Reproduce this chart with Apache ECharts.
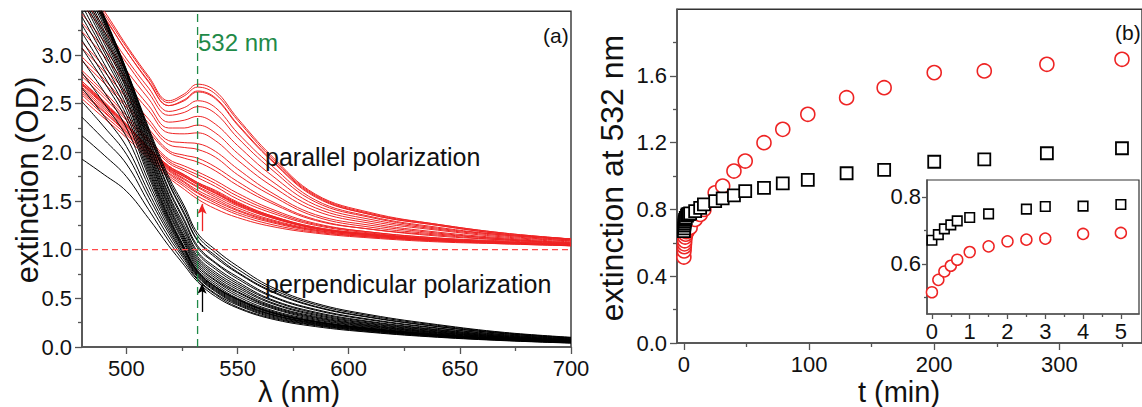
<!DOCTYPE html>
<html><head><meta charset="utf-8">
<script src="https://cdn.jsdelivr.net/npm/echarts@6/dist/echarts.min.js"></script>
<style>html,body{margin:0;padding:0;background:#fff;overflow:hidden}#c{width:1142px;height:407px}</style>
</head><body><div id="c"></div><script>
// ---------- DATA ----------
const WAVELENGTHS = [480, 490, 500, 510, 519, 526, 532, 540, 550, 565, 585, 610, 640, 670, 700];

// parallel polarization spectra (plotted with +1.0 OD offset), one row per time
const RED_SPECTRA = [
 [2.55,2.35,2.15,1.93,1.74,1.62,1.52,1.42,1.33,1.24,1.17,1.12,1.08,1.06,1.04],
 [2.59,2.38,2.18,1.95,1.76,1.65,1.55,1.46,1.36,1.26,1.18,1.13,1.09,1.06,1.04],
 [2.61,2.41,2.20,1.97,1.78,1.67,1.58,1.48,1.38,1.28,1.19,1.13,1.09,1.07,1.04],
 [2.63,2.42,2.21,1.98,1.79,1.69,1.59,1.50,1.40,1.29,1.20,1.14,1.09,1.07,1.05],
 [2.65,2.44,2.22,1.99,1.81,1.70,1.61,1.52,1.41,1.30,1.20,1.14,1.10,1.07,1.05],
 [2.67,2.46,2.24,2.01,1.82,1.72,1.64,1.54,1.43,1.31,1.21,1.15,1.10,1.07,1.05],
 [2.69,2.48,2.25,2.02,1.83,1.73,1.65,1.56,1.45,1.33,1.22,1.15,1.10,1.07,1.05],
 [2.70,2.49,2.27,2.03,1.84,1.75,1.67,1.58,1.46,1.33,1.22,1.15,1.10,1.07,1.05],
 [2.71,2.50,2.27,2.04,1.84,1.75,1.67,1.58,1.47,1.34,1.22,1.15,1.10,1.07,1.05],
 [2.71,2.50,2.28,2.04,1.85,1.76,1.68,1.59,1.47,1.34,1.22,1.16,1.10,1.07,1.05],
 [2.73,2.51,2.29,2.05,1.86,1.77,1.69,1.60,1.48,1.35,1.23,1.16,1.11,1.08,1.05],
 [2.73,2.52,2.29,2.05,1.86,1.77,1.69,1.61,1.49,1.35,1.23,1.16,1.11,1.08,1.05],
 [2.78,2.56,2.33,2.10,1.89,1.81,1.74,1.65,1.52,1.38,1.25,1.17,1.11,1.08,1.05],
 [2.81,2.59,2.35,2.12,1.91,1.83,1.77,1.68,1.55,1.40,1.26,1.18,1.12,1.08,1.06],
 [2.84,2.62,2.38,2.14,1.93,1.86,1.80,1.71,1.58,1.42,1.27,1.18,1.12,1.09,1.06],
 [2.94,2.71,2.46,2.21,2.00,1.94,1.90,1.81,1.66,1.48,1.30,1.21,1.14,1.10,1.06],
 [2.98,2.75,2.49,2.24,2.02,1.97,1.94,1.85,1.70,1.50,1.31,1.21,1.15,1.10,1.07],
 [3.07,2.83,2.56,2.30,2.08,2.05,2.03,1.95,1.77,1.56,1.34,1.23,1.16,1.11,1.07],
 [3.13,2.88,2.61,2.34,2.12,2.10,2.09,2.01,1.83,1.59,1.36,1.25,1.17,1.11,1.07],
 [3.24,2.99,2.70,2.43,2.20,2.19,2.20,2.12,1.92,1.66,1.40,1.27,1.18,1.12,1.08],
 [3.33,3.06,2.76,2.48,2.25,2.25,2.28,2.20,1.99,1.71,1.43,1.29,1.20,1.13,1.09],
 [3.42,3.14,2.84,2.55,2.31,2.33,2.37,2.29,2.07,1.77,1.46,1.31,1.21,1.14,1.09],
 [3.52,3.24,2.92,2.61,2.38,2.41,2.47,2.40,2.15,1.83,1.49,1.33,1.22,1.15,1.10],
 [3.58,3.29,2.96,2.66,2.42,2.46,2.53,2.46,2.20,1.87,1.51,1.34,1.23,1.15,1.10],
 [3.67,3.38,3.04,2.72,2.48,2.53,2.62,2.55,2.28,1.92,1.54,1.36,1.25,1.16,1.11],
 [3.68,3.39,3.04,2.73,2.48,2.54,2.63,2.56,2.29,1.93,1.55,1.36,1.25,1.16,1.11],
 [3.72,3.42,3.08,2.76,2.51,2.58,2.67,2.60,2.33,1.95,1.56,1.37,1.26,1.17,1.11],
 [3.75,3.45,3.10,2.78,2.53,2.60,2.70,2.63,2.35,1.97,1.57,1.38,1.26,1.17,1.11]
];

// perpendicular polarization spectra, one row per time
const BLACK_SPECTRA = [
 [1.93,1.77,1.60,1.32,1.04,0.84,0.67,0.52,0.40,0.29,0.21,0.15,0.10,0.065,0.040],
 [2.17,1.97,1.75,1.41,1.09,0.87,0.69,0.54,0.41,0.30,0.22,0.156,0.104,0.068,0.042],
 [2.36,2.13,1.88,1.48,1.13,0.90,0.70,0.55,0.43,0.31,0.226,0.162,0.109,0.071,0.044],
 [2.52,2.26,1.98,1.54,1.17,0.92,0.72,0.57,0.44,0.32,0.232,0.167,0.112,0.073,0.046],
 [2.66,2.37,2.06,1.59,1.20,0.94,0.73,0.58,0.45,0.33,0.238,0.171,0.115,0.075,0.047],
 [2.82,2.50,2.16,1.65,1.23,0.95,0.74,0.59,0.46,0.335,0.243,0.175,0.118,0.077,0.048],
 [2.95,2.62,2.25,1.70,1.26,0.97,0.75,0.60,0.47,0.34,0.248,0.179,0.121,0.079,0.050],
 [3.07,2.72,2.33,1.75,1.28,0.99,0.76,0.61,0.48,0.35,0.255,0.184,0.124,0.081,0.051],
 [3.15,2.78,2.38,1.78,1.30,1.00,0.77,0.62,0.49,0.357,0.259,0.187,0.126,0.082,0.052],
 [3.23,2.85,2.43,1.81,1.32,1.01,0.772,0.62,0.49,0.358,0.26,0.188,0.127,0.082,0.052],
 [3.31,2.91,2.48,1.84,1.33,1.02,0.78,0.62,0.49,0.36,0.262,0.189,0.128,0.083,0.053],
 [3.39,2.98,2.53,1.87,1.35,1.03,0.79,0.64,0.50,0.37,0.268,0.193,0.131,0.085,0.054],
 [3.45,3.03,2.56,1.90,1.38,1.06,0.81,0.66,0.52,0.38,0.278,0.201,0.137,0.089,0.057],
 [3.51,3.07,2.60,1.93,1.40,1.08,0.83,0.68,0.54,0.40,0.287,0.208,0.142,0.092,0.059],
 [3.57,3.12,2.64,1.96,1.43,1.10,0.85,0.69,0.56,0.41,0.297,0.215,0.147,0.096,0.062],
 [3.60,3.16,2.66,1.98,1.45,1.12,0.87,0.71,0.57,0.42,0.305,0.221,0.151,0.099,0.064],
 [3.64,3.19,2.69,2.01,1.47,1.14,0.89,0.73,0.59,0.43,0.314,0.228,0.156,0.102,0.066],
 [3.68,3.22,2.71,2.03,1.50,1.17,0.91,0.75,0.61,0.45,0.326,0.237,0.163,0.106,0.069],
 [3.72,3.25,2.74,2.06,1.52,1.20,0.93,0.77,0.63,0.46,0.336,0.244,0.168,0.109,0.071],
 [3.76,3.29,2.76,2.09,1.55,1.22,0.96,0.80,0.65,0.48,0.348,0.254,0.175,0.114,0.075],
 [3.80,3.32,2.79,2.11,1.57,1.25,0.98,0.82,0.67,0.49,0.358,0.261,0.180,0.118,0.077],
 [3.82,3.34,2.80,2.14,1.61,1.29,1.02,0.86,0.70,0.52,0.378,0.276,0.191,0.124,0.082],
 [3.84,3.35,2.81,2.16,1.63,1.31,1.04,0.87,0.72,0.53,0.387,0.283,0.196,0.128,0.084],
 [3.86,3.37,2.83,2.19,1.68,1.36,1.09,0.92,0.76,0.57,0.411,0.301,0.209,0.136,0.090],
 [3.88,3.38,2.84,2.21,1.69,1.38,1.10,0.94,0.77,0.58,0.418,0.306,0.212,0.139,0.092],
 [3.89,3.39,2.84,2.23,1.72,1.42,1.14,0.97,0.80,0.60,0.436,0.319,0.222,0.145,0.096],
 [3.90,3.40,2.85,2.25,1.75,1.45,1.17,1.00,0.83,0.62,0.45,0.33,0.23,0.15,0.10]
];

// extinction at 532 nm vs time (min)
const RED_TIMES = [0, 0.17, 0.33, 0.5, 0.67, 1, 1.5, 2, 2.5, 3, 4, 5, 9, 13, 16, 25, 31, 40, 49, 64, 79, 99, 130, 160, 200, 240, 290, 350];
const RED_EXT   = [0.515, 0.552, 0.577, 0.594, 0.612, 0.635, 0.652, 0.667, 0.672, 0.675, 0.689, 0.692, 0.74, 0.77, 0.80, 0.90, 0.94, 1.03, 1.09, 1.20, 1.28, 1.37, 1.47, 1.53, 1.62, 1.63, 1.67, 1.70];
const BLACK_TIMES = [0, 0.17, 0.33, 0.5, 0.67, 1, 1.5, 2.5, 3, 4, 5, 9, 13, 16, 25, 31, 40, 49, 64, 79, 99, 130, 160, 200, 240, 290, 350];
const BLACK_EXT   = [0.67, 0.687, 0.704, 0.716, 0.728, 0.738, 0.749, 0.763, 0.771, 0.772, 0.777, 0.79, 0.81, 0.83, 0.85, 0.867, 0.885, 0.91, 0.93, 0.957, 0.977, 1.017, 1.037, 1.086, 1.10, 1.137, 1.167];

// reference marks in panel (a)
const LASER_NM = 532;          // vertical dashed line
const OFFSET_OD = 1.0;         // horizontal dashed line (offset of parallel spectra)
const RED_ARROW = [[534, 1.19], [534, 1.47]];
const BLACK_ARROW = [[534, 0.36], [534, 0.65]];

// axis ticks
const A_X_MAJOR = [500, 550, 600, 650, 700];
const A_X_MINOR = [525, 575, 625, 675];
const A_Y_MAJOR = [0, 0.5, 1.0, 1.5, 2.0, 2.5, 3.0];
const A_Y_MINOR = [0.25, 0.75, 1.25, 1.75, 2.25, 2.75, 3.25];
const B_X_MAJOR = [0, 100, 200, 300];
const B_X_MINOR = [50, 150, 250, 350];
const B_Y_MAJOR = [0, 0.4, 0.8, 1.2, 1.6];
const B_Y_MINOR = [0.2, 0.6, 1.0, 1.4, 1.8];
const I_X_MAJOR = [0, 1, 2, 3, 4, 5];
const I_X_MINOR = [0.5, 1.5, 2.5, 3.5, 4.5];
const I_Y_MAJOR = [0.6, 0.8];
const I_Y_MINOR = [0.5, 0.7];

// ---------- CHART ----------
const FONT = '"Liberation Sans", Arial, Helvetica, sans-serif';
const RED = '#ee2424';
const AXIS_C = '#555';
const A_XMIN = 480, A_XMAX = 700, A_YMIN = 0, A_YMAX = 3.45;
const chart = echarts.init(document.getElementById('c'), null, {renderer: 'svg'});

function axisPair(grid, pos, min, max, major, minor, fmt, len, mlen, margin, fs, z) {
  const main = {
    type: 'value', gridIndex: grid, position: pos, min: min, max: max, z: z,
    axisLine: {show: true, onZero: false, lineStyle: {color: AXIS_C, width: 1.6}},
    axisTick: {show: true, inside: false, length: len, customValues: major, lineStyle: {color: AXIS_C, width: 1.3}},
    axisLabel: {show: true, customValues: major, formatter: fmt, margin: margin,
      fontSize: fs, fontFamily: FONT, color: '#111'},
    splitLine: {show: false}
  };
  const sub = {
    type: 'value', gridIndex: grid, position: pos, min: min, max: max, z: z,
    axisLine: {show: false, onZero: false},
    axisTick: {show: true, inside: false, length: mlen, customValues: minor, lineStyle: {color: AXIS_C, width: 1.3}},
    axisLabel: {show: false},
    splitLine: {show: false}
  };
  return [main, sub];
}
const f1 = v => Number(v).toFixed(1);
const f0 = v => String(Math.round(v));

const xAxes = [].concat(
  axisPair(0, 'bottom', A_XMIN, A_XMAX, A_X_MAJOR, A_X_MINOR, f0, 7, 4, 10, 22, 1),
  axisPair(1, 'bottom', -5.5, 366, B_X_MAJOR, B_X_MINOR, f0, 7, 4, 10, 22, 1),
  axisPair(2, 'bottom', -0.13, 5.48, I_X_MAJOR, I_X_MINOR, f0, 5, 3, 6, 22, 8)
);
const yAxes = [].concat(
  axisPair(0, 'left', A_YMIN, A_YMAX, A_Y_MAJOR, A_Y_MINOR, f1, 7, 4, 10, 22, 1),
  axisPair(1, 'left', 0, 2.0, B_Y_MAJOR, B_Y_MINOR, f1, 7, 4, 10, 22, 1),
  axisPair(2, 'left', 0.45, 0.85, I_Y_MAJOR, I_Y_MINOR, f1, 5, 3, 6, 22, 8)
);

const series = [];
RED_SPECTRA.forEach(spec => series.push({
  type: 'line', xAxisIndex: 0, yAxisIndex: 0, silent: true, showSymbol: false,
  smooth: 0.4, clip: true, z: 2,
  lineStyle: {color: RED, width: 1}, itemStyle: {color: RED},
  data: WAVELENGTHS.map((w, k) => [w, spec[k]])
}));
BLACK_SPECTRA.forEach(spec => series.push({
  type: 'line', xAxisIndex: 0, yAxisIndex: 0, silent: true, showSymbol: false,
  smooth: 0.4, clip: true, z: 2,
  lineStyle: {color: '#000', width: 1}, itemStyle: {color: '#000'},
  data: WAVELENGTHS.map((w, k) => [w, spec[k]])
}));
// reference lines (as simple two-point line series)
function refSeries(pts, color, dash, width) {
  return {
    type: 'line', xAxisIndex: 0, yAxisIndex: 0, silent: true, showSymbol: false, z: 5, clip: true,
    lineStyle: {color: color, type: dash, width: width, opacity: 1}, itemStyle: {color: color},
    data: pts
  };
}
series.push(refSeries([[LASER_NM, A_YMIN], [LASER_NM, A_YMAX]], '#1f8a48', [8, 5], 1.3));
series.push(refSeries([[A_XMIN, OFFSET_OD], [A_XMAX, OFFSET_OD]], '#ff4a4a', [6, 4], 1.4));
// arrows
function arrow(pts, color) {
  return {
    type: 'line', xAxisIndex: 0, yAxisIndex: 0, data: [], silent: true, z: 6,
    markLine: {
      silent: true, animation: false, symbol: ['none', 'arrow'], symbolSize: [7, 10],
      label: {show: false},
      lineStyle: {color: color, type: 'solid', width: 1.3, opacity: 1},
      itemStyle: {color: color},
      data: [[{coord: pts[0]}, {coord: pts[1]}]]
    }
  };
}
series.push(arrow(RED_ARROW, RED));
series.push(arrow(BLACK_ARROW, '#000'));

// panel b
function scatter(xi, yi, times, vals, sym, size, color, bw, z) {
  return {
    type: 'scatter', xAxisIndex: xi, yAxisIndex: yi, symbol: sym, symbolSize: size, clip: true,
    silent: true, z: z,
    itemStyle: {color: '#fff', borderColor: color, borderWidth: bw, opacity: 1},
    data: times.map((t, i) => [t, vals[i]])
  };
}
series.push(scatter(2, 2, RED_TIMES, RED_EXT, 'circle', 14, RED, 1.6, 3));
series.push(scatter(2, 2, BLACK_TIMES, BLACK_EXT, 'rect', 12, '#000', 1.8, 3));
series.push(scatter(4, 4, RED_TIMES, RED_EXT, 'circle', 11, RED, 1.5, 10));
series.push(scatter(4, 4, BLACK_TIMES, BLACK_EXT, 'rect', 9.5, '#000', 1.6, 10));

function txt(text, x, y, size, opts) {
  opts = opts || {};
  return {
    type: 'text', x: x, y: y, rotation: opts.rot || 0, z: 100, silent: true,
    style: {
      text: text, font: size + 'px ' + FONT, fill: opts.color || '#111',
      textAlign: opts.align || 'left', textVerticalAlign: 'middle',
      align: opts.align || 'left', verticalAlign: 'middle'
    }
  };
}

chart.setOption({
  animation: false,
  backgroundColor: '#fff',
  grid: [
    {left: 82, top: 11.2, width: 489, height: 335.8, show: true, borderColor: '#333', borderWidth: 1.4, backgroundColor: 'transparent'},
    {left: 677, top: 9.2, width: 467, height: 333.8, show: true, borderColor: '#333', borderWidth: 1.4, backgroundColor: 'transparent'},
    {left: 927, top: 180, width: 212, height: 134, show: true, borderColor: '#333', borderWidth: 1.2, backgroundColor: '#fff', z: 4}
  ],
  xAxis: xAxes,
  yAxis: yAxes,
  series: series,
  graphic: [
    txt('532 nm', 198, 42, 24, {color: '#1f8a48'}),
    txt('(a)', 543, 35, 21),
    txt('parallel polarization', 265, 157, 25),
    txt('perpendicular polarization', 265, 284, 25),
    txt('(b)', 1115, 32, 21),
    txt('extinction (OD)', 27, 180, 31, {rot: Math.PI / 2, align: 'center'}),
    txt('extinction at 532 nm', 612, 178, 32, {rot: Math.PI / 2, align: 'center'}),
    txt('λ (nm)', 299, 392, 29, {align: 'center'}),
    txt('t (min)', 899, 392, 29, {align: 'center'})
  ]
});
</script></body></html>
